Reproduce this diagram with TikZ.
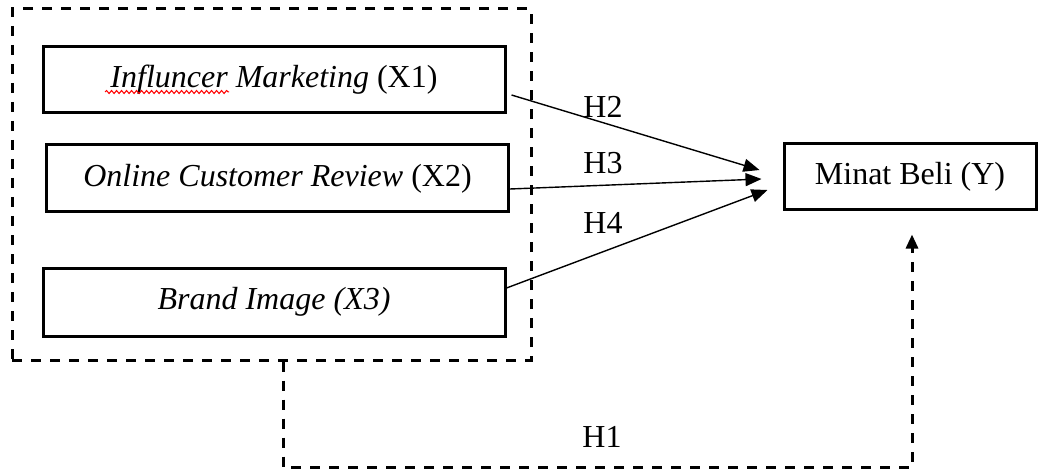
\documentclass[tikz,border=0pt]{standalone}
\usepackage{fontspec}
\setmainfont{Liberation Serif}
\usetikzlibrary{arrows.meta,calc,decorations.pathmorphing}

\tikzset{
  varbox/.style={draw=black, line width=3pt, minimum height=66, inner sep=0pt,
    font=\fontsize{32}{38}\selectfont},
  groupbox/.style={draw=black, line width=3pt, dash pattern=on 10pt off 9pt,
    minimum width=519, minimum height=351, inner sep=0pt},
  path arrow/.style={line width=1.4pt, -{Triangle[length=16pt,width=13pt]}},
  dashed link/.style={line width=3pt, dash pattern=on 10pt off 9pt,
    -{Triangle[length=14pt,width=12pt]}},
  hyp/.style={font=\fontsize{32}{38}\selectfont, inner sep=0pt},
  spellmark/.style={draw=red, line width=1pt,
    decorate, decoration={snake, segment length=5pt, amplitude=1.5pt}}
}

\begin{document}
\begin{tikzpicture}[x=1pt, y=-1pt]
  \useasboundingbox (0,0) rectangle (1040,470);

  % dashed frame around the independent variables
  \node[groupbox] (grp) at (271.5,184.5) {};

  % independent variables
  \node[varbox, minimum width=462] (x1) at (274,80)
    {\textit{Influncer Marketing} (X1)};
  \node[varbox, minimum width=462, minimum height=67] (x2) at (277.5,178.5)
    {\textit{Online Customer Review} (X2)};
  \node[varbox, minimum width=462, minimum height=68] (x3) at (274,302)
    {\textit{Brand Image (X3)}};

  % dependent variable
  \node[varbox, minimum width=252] (yy) at (910,177) {Minat Beli (Y)};

  % wavy mark under the first word
  \draw[spellmark] ($(x1.center)+(-169,12)$) -- ($(x1.center)+(-45,12)$);

  % arrow end points in front of the dependent variable
  \coordinate (t2) at ($(yy.west)+(-23,-7)$);
  \coordinate (t3) at ($(yy.west)+(-21,2)$);
  \coordinate (t4) at ($(yy.west)+(-15,13)$);
  \coordinate (t1) at ($(yy.south)+(2,23)$);

  % partial effects
  \draw[path arrow] ($(x1.east)+(5,15)$) -- (t2);
  \draw[path arrow] ($(x2.east)+(0,10.5)$) -- (t3);
  \draw[path arrow] ($(x3.east)+(0,-14)$) -- (t4);

  % simultaneous effect
  \draw[dashed link] ($(grp.south)+(11.5,0)$) -- ++(0,106) -| (t1);

  % hypothesis labels
  \node[hyp] (h2) at (603,107) {H2};
  \node[hyp] (h3) at (603,163) {H3};
  \node[hyp] (h4) at (603,223) {H4};
  \node[hyp] (h1) at (602,437) {H1};
\end{tikzpicture}
\end{document}
